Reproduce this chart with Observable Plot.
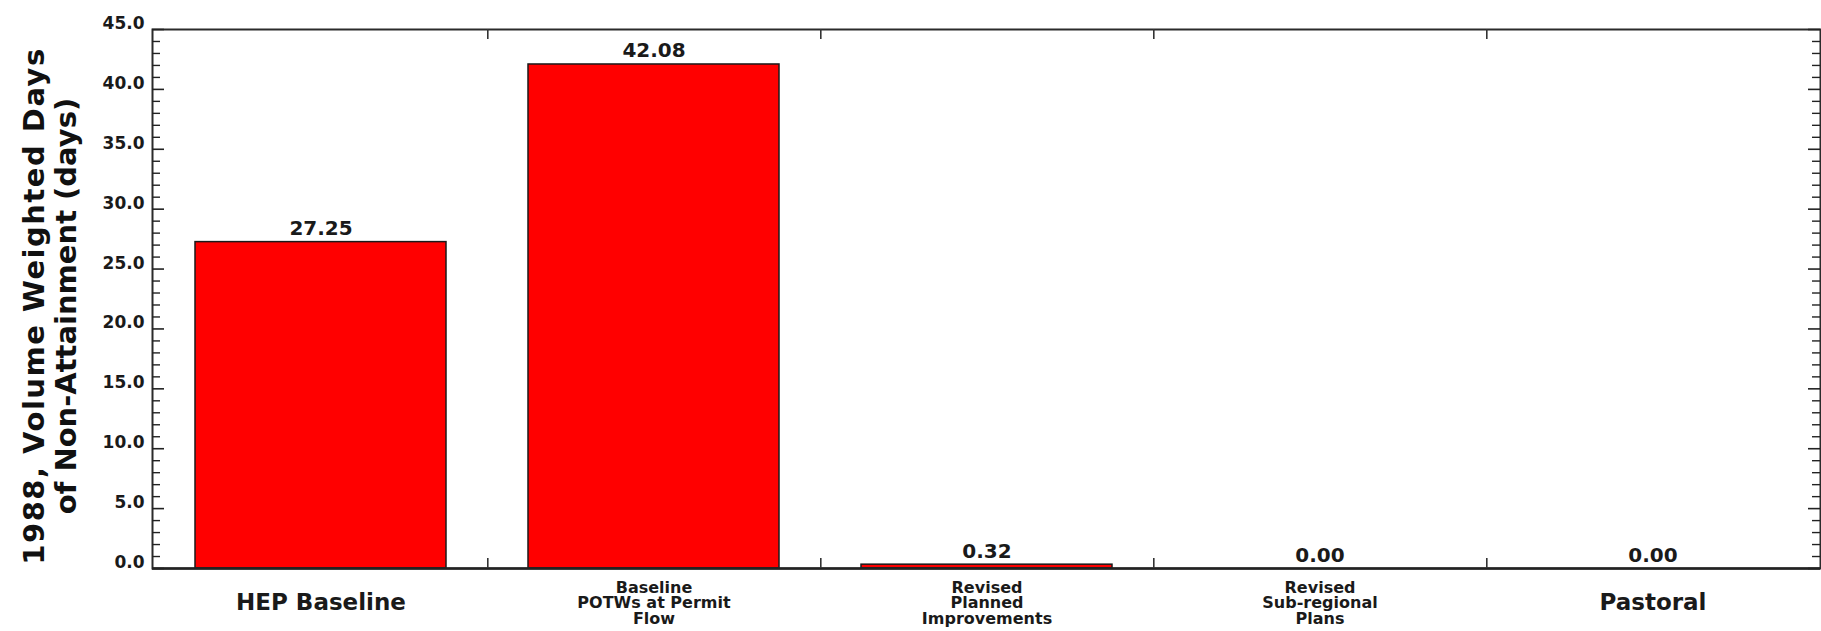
<!DOCTYPE html>
<html>
<head>
<meta charset="utf-8">
<script src="https://cdn.jsdelivr.net/npm/d3@7"></script>
<script src="https://cdn.jsdelivr.net/npm/@observablehq/plot@0.6"></script>
<style>
  html, body { margin: 0; padding: 0; background: #ffffff; }
  #chart svg { display: block; }
</style>
</head>
<body>
<div id="chart"></div>
<script>
// ---- data ----
const categories = ["HEP Baseline", "Baseline POTWs at Permit Flow", "Revised Planned Improvements", "Revised Sub-regional Plans", "Pastoral"];
const categoryLabels = ["HEP Baseline", "Baseline\nPOTWs at Permit\nFlow", "Revised\nPlanned\nImprovements", "Revised\nSub-regional\nPlans", "Pastoral"];
const values = [27.25, 42.08, 0.32, 0.00, 0.00];
const yMajorTicks = [0, 5, 10, 15, 20, 25, 30, 35, 40, 45];
const yMinorTicks = d3.range(0, 46, 1).filter(v => v % 5 !== 0);
const yTitle = "1988, Volume Weighted Days\nof Non-Attainment (days)";

const rows = categories.map((c, i) => ({cat: c, label: categoryLabels[i], value: values[i]}));

// ---- layout ----
const W = 1821, H = 631;
const mL = 152, mR = 1, mT = 29, mB = 63;
const plotW = W - mL - mR, plotH = H - mT - mB;
const step = plotW / categories.length;
const font = "DejaVu Sans";

const chart = Plot.plot({
  width: W,
  height: H,
  marginLeft: mL, marginRight: mR, marginTop: mT, marginBottom: mB,
  style: {background: "#ffffff", fontFamily: font, overflow: "visible"},
  x: {domain: categories, paddingInner: 0.2476, paddingOuter: 0.1238, axis: null},
  y: {domain: [0, 45], axis: null},
  marks: [
    Plot.barY(rows, {x: "cat", y: "value", fill: "#ff0000", stroke: "#1a1a1a", strokeWidth: 1.5}),
    // frame
    Plot.frame({stroke: "#2b2b2b", strokeWidth: 2}),
    Plot.ruleY([0], {stroke: "#222", strokeWidth: 2.5}),
    // left ticks (inward)
    Plot.tickY(yMajorTicks, {y: d => d, stroke: "#222", strokeWidth: 1.6, insetRight: plotW - 12}),
    Plot.tickY(yMinorTicks, {y: d => d, stroke: "#222", strokeWidth: 1.4, insetRight: plotW - 8}),
    // right ticks (inward)
    Plot.tickY(yMajorTicks, {y: d => d, stroke: "#222", strokeWidth: 1.6, insetLeft: plotW - 12}),
    Plot.tickY(yMinorTicks, {y: d => d, stroke: "#222", strokeWidth: 1.4, insetLeft: plotW - 8}),
    // category boundary ticks bottom and top
    Plot.ruleX(categories.slice(0, -1), {x: d => d, dx: step / 2, stroke: "#333", strokeWidth: 1.6, insetTop: plotH - 10}),
    Plot.ruleX(categories.slice(0, -1), {x: d => d, dx: step / 2, stroke: "#333", strokeWidth: 1.6, insetBottom: plotH - 10}),
    // y tick labels
    Plot.text(yMajorTicks, {y: d => d, text: d => d.toFixed(1), frameAnchor: "left", textAnchor: "end", dx: -8, dy: -6,
      fontSize: 17, fontWeight: "bold", fill: "#1a1a1a"}),
    // value labels
    Plot.text(rows, {x: "cat", y: "value", text: d => d.value.toFixed(2), lineAnchor: "bottom", dy: -7,
      fontSize: 20, fontWeight: "bold", fill: "#1a1a1a"}),
    // x category labels: single-line (large) and multi-line (small)
    Plot.text(rows.filter(d => !d.label.includes("\n")), {x: "cat", text: "label", frameAnchor: "bottom", lineAnchor: "middle", dy: 34,
      fontSize: 23, fontWeight: "bold", fill: "#1a1a1a"}),
    Plot.text(rows.filter(d => d.label.includes("\n")), {x: "cat", text: "label", frameAnchor: "bottom", lineAnchor: "middle", dy: 35,
      fontSize: 16, lineHeight: 0.97, fontWeight: "bold", fill: "#1a1a1a"}),
    // y title
    Plot.text([yTitle], {text: d => d, frameAnchor: "left", rotate: -90, dx: -103, dy: 7, lineAnchor: "middle", textAnchor: "middle",
      fontSize: 29, lineHeight: 1.1, fontWeight: "bold", fill: "#111"})
  ]
});

// widen the first title line slightly to match the reference's spacing
d3.select(chart).selectAll("tspan")
  .filter(function() { return this.textContent.startsWith("1988"); })
  .style("letter-spacing", "1.5px");

document.getElementById("chart").appendChild(chart);
</script>
</body>
</html>
